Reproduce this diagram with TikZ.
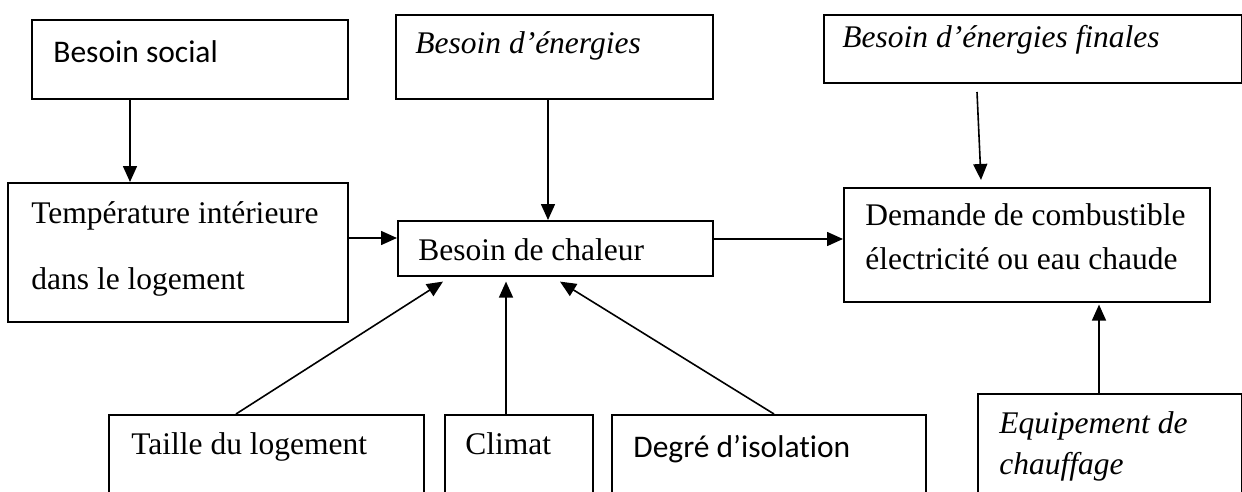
\documentclass[tikz,border=0pt]{standalone}
\usepackage{fontspec}
\setmainfont{Liberation Serif}
\newfontfamily\calib[Ligatures=NoCommon]{Carlito}
\usetikzlibrary{arrows.meta,calc}
\begin{document}
\begin{tikzpicture}[x=0.5pt,y=-0.5pt,
  box/.style={draw=black,line width=0.8pt,inner sep=0pt,anchor=north west},
  txt/.style={inner sep=0pt,anchor=base west,align=left,font=\fontsize{15.75pt}{18pt}\selectfont},
  arr/.style={line width=0.8pt,-{Triangle[length=8pt,width=7pt]}},
  plain/.style={line width=0.8pt}]
\useasboundingbox (0,0) rectangle (1242,492);
\clip (0,0) rectangle (1242,492);
% boxes
\node[box,minimum width=158pt,minimum height=39.5pt] (social) at (31,19) {};
\node[box,minimum width=158.5pt,minimum height=42pt] (energ) at (395,14) {};
\node[box,minimum width=209pt,minimum height=34pt] (finales) at (823,14) {};
\node[box,minimum width=170pt,minimum height=69.5pt] (temp) at (7,182) {};
\node[box,minimum width=157.5pt,minimum height=27.5pt] (chaleur) at (397,220) {};
\node[box,minimum width=183pt,minimum height=57pt] (demande) at (843,187) {};
\node[box,minimum width=157.5pt,minimum height=60pt] (taille) at (108,414) {};
\node[box,minimum width=74pt,minimum height=60pt] (climat) at (444,414) {};
\node[box,minimum width=157pt,minimum height=60pt] (degre) at (611,414) {};
\node[box,minimum width=132pt,minimum height=70pt] (equip) at (977,393) {};
% texts (base west = baseline of last line)
\node[txt] (tsocial) at (53,63) {\calib Besoin social};
\node[txt] (tenerg) at (415,54) {\itshape Besoin d’énergies};
\node[txt] (tfinales) at (842,48) {\itshape Besoin d’énergies finales};
\node[txt,font=\fontsize{15.75pt}{33pt}\selectfont] (ttemp) at (31,289) {Température intérieure\\dans le logement};
\node[txt] (tchaleur) at (418,260) {Besoin de chaleur};
\node[txt,font=\fontsize{15.75pt}{22pt}\selectfont] (tdemande) at (865,269) {Demande de combustible\\électricité ou eau chaude};
\node[txt] (ttaille) at (131,454) {Taille du logement};
\node[txt] (tclimat) at (465,454) {Climat};
\node[txt] (tdegre) at (633,457) {\calib Degré d’isolation};
\node[txt,font=\fontsize{15.75pt}{20.5pt}\selectfont] (tequip) at (999,474) {\itshape Equipement de\\\itshape chauffage};
% connectors
\coordinate (f1) at (977,92);
\coordinate (f2) at (981,180);
\draw[arr] (social.south -| 130,0) -- (temp.north -| 130,0);
\draw[arr] (energ.south -| 548,0) -- (chaleur.north -| 548,0);
\draw[arr] (temp.east |- 0,238) -- (chaleur.west |- 0,238);
\draw[arr] (chaleur.east |- 0,239) -- (demande.west |- 0,239);
\draw[arr] (f1) -- (f2);
\draw[arr] (taille.north -| 236,0) -- ($(chaleur.south -| 443,0)+(0,5)$);
\draw[arr] (climat.north -| 506,0) -- ($(chaleur.south -| 506,0)+(0,5)$);
\draw[arr] (degre.north -| 774,0) -- ($(chaleur.south -| 560,0)+(0,5)$);
\draw[arr] (equip.north -| 1099,0) -- ($(demande.south -| 1099,0)+(0,2)$);
\end{tikzpicture}
\end{document}
